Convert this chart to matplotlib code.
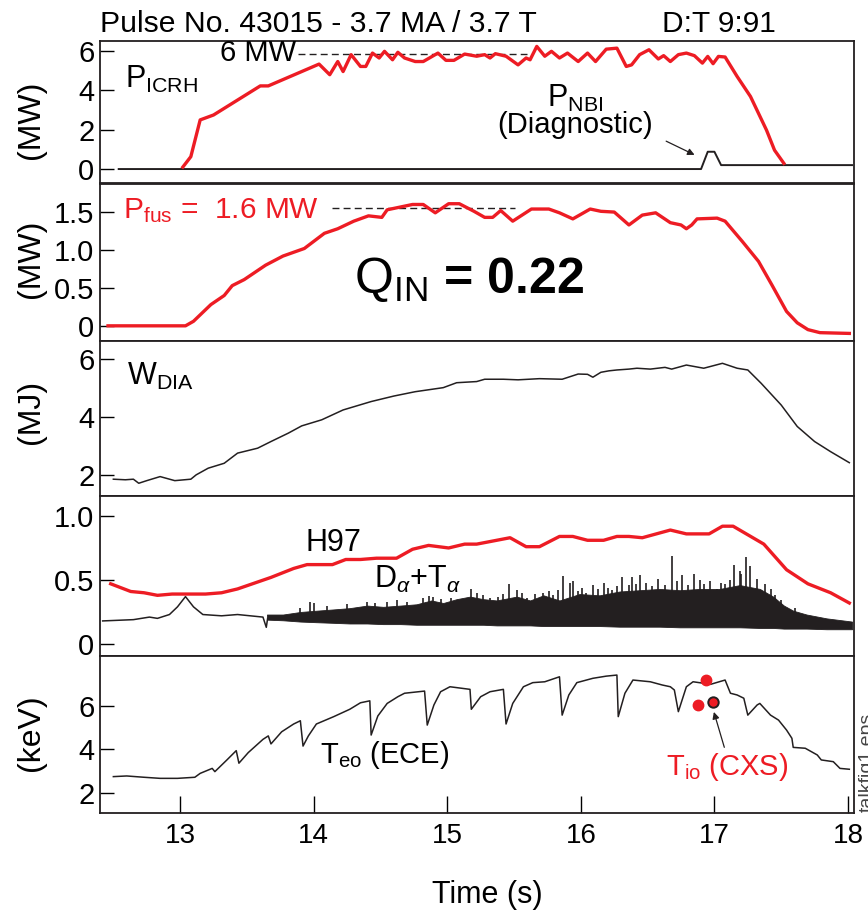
import numpy as np
import matplotlib
matplotlib.use('Agg')
import matplotlib.pyplot as plt

# Helvetica-like face everywhere, subscripts through mathtext
FONT = 'Liberation Sans'
plt.rcParams['font.family'] = [FONT, 'DejaVu Sans']
plt.rcParams['mathtext.fontset'] = 'custom'
plt.rcParams['mathtext.rm'] = FONT
plt.rcParams['mathtext.it'] = FONT + ':italic'
plt.rcParams['mathtext.bf'] = FONT + ':bold'

RED = '#ed1c24'
BLK = '#231f20'

# ---- panel 1: ICRH power and diagnostic NBI (MW)
t_icrh = [13.02, 13.08, 13.15, 13.25, 13.60, 13.66, 14.04, 14.12, 14.18, 14.22, 14.28, 14.35,
          14.39, 14.44, 14.49, 14.53, 14.59, 14.63, 14.68, 14.76, 14.82, 14.93, 14.99, 15.05,
          15.13, 15.22, 15.28, 15.32, 15.36, 15.44, 15.53, 15.59, 15.62, 15.67, 15.73, 15.78,
          15.84, 15.90, 15.98, 16.05, 16.11, 16.19, 16.27, 16.34, 16.38, 16.44, 16.51, 16.58,
          16.62, 16.67, 16.73, 16.79, 16.85, 16.91, 16.95, 16.99, 17.03, 17.08, 17.17, 17.27,
          17.39, 17.45, 17.52]
p_icrh = [0.10, 0.63, 2.50, 2.75, 4.23, 4.23, 5.34, 4.80, 5.47, 4.96, 5.82, 5.22,
          5.22, 5.90, 5.65, 5.99, 5.56, 5.94, 5.65, 5.47, 5.47, 5.90, 5.53, 5.53,
          5.85, 5.74, 5.82, 5.65, 5.87, 5.74, 5.30, 5.65, 5.56, 6.24, 5.74, 5.99,
          5.65, 5.90, 5.47, 5.90, 5.47, 6.10, 6.15, 5.22, 5.30, 5.82, 6.07, 5.60,
          5.77, 5.47, 5.82, 5.90, 5.77, 5.39, 5.73, 5.36, 5.73, 5.70, 4.71, 3.69,
          1.98, 0.96, 0.29]
t_nbi = [12.54, 16.90, 16.95, 17.00, 17.05, 18.03]
p_nbi = [0.00, 0.00, 0.88, 0.88, 0.20, 0.20]

# ---- panel 2: fusion power (MW)
t_fus = [12.46, 13.04, 13.10, 13.23, 13.33, 13.39, 13.48, 13.64, 13.77, 13.93, 14.08, 14.18,
         14.30, 14.41, 14.51, 14.55, 14.74, 14.82, 14.91, 15.01, 15.09, 15.20, 15.28, 15.34,
         15.40, 15.49, 15.63, 15.76, 15.84, 15.94, 16.07, 16.15, 16.25, 16.36, 16.46, 16.56,
         16.67, 16.75, 16.79, 16.83, 16.87, 17.02, 17.08, 17.21, 17.33, 17.43, 17.54, 17.62,
         17.70, 17.79, 18.01]
p_fus = [0.00, 0.00, 0.06, 0.28, 0.40, 0.53, 0.61, 0.80, 0.92, 1.02, 1.22, 1.28,
         1.38, 1.45, 1.43, 1.53, 1.60, 1.60, 1.49, 1.61, 1.61, 1.51, 1.43, 1.43,
         1.52, 1.38, 1.54, 1.54, 1.49, 1.41, 1.54, 1.51, 1.50, 1.33, 1.46, 1.49,
         1.36, 1.33, 1.28, 1.33, 1.41, 1.42, 1.38, 1.11, 0.85, 0.54, 0.19, 0.04,
         -0.05, -0.09, -0.10]

# ---- panel 3: diamagnetic energy (MJ)
t_wdia = [12.50, 12.59, 12.65, 12.69, 12.75, 12.85, 12.96, 13.08, 13.12, 13.21, 13.33, 13.43,
          13.58, 13.68, 13.81, 13.91, 14.06, 14.22, 14.43, 14.60, 14.76, 14.97, 15.07, 15.22,
          15.28, 15.42, 15.53, 15.69, 15.86, 15.98, 16.05, 16.09, 16.15, 16.21, 16.27, 16.36,
          16.42, 16.52, 16.63, 16.68, 16.79, 16.92, 17.06, 17.17, 17.25, 17.35, 17.50, 17.62,
          17.75, 17.87, 18.01]
w_dia = [1.86, 1.84, 1.86, 1.72, 1.81, 1.95, 1.81, 1.86, 2.01, 2.24, 2.41, 2.76,
         2.93, 3.16, 3.45, 3.70, 3.91, 4.25, 4.54, 4.73, 4.88, 5.02, 5.19, 5.23,
         5.31, 5.31, 5.29, 5.33, 5.31, 5.49, 5.48, 5.38, 5.55, 5.60, 5.63, 5.66,
         5.69, 5.66, 5.72, 5.66, 5.80, 5.69, 5.86, 5.69, 5.63, 5.17, 4.42, 3.68,
         3.16, 2.81, 2.43]

# ---- panel 4: H97 and D-alpha + T-alpha
t_h97 = [12.48, 12.63, 12.73, 12.83, 12.94, 13.19, 13.31, 13.43, 13.68, 13.85, 13.95, 14.14,
         14.24, 14.35, 14.47, 14.62, 14.74, 14.86, 15.01, 15.13, 15.22, 15.47, 15.59, 15.69,
         15.84, 15.94, 16.05, 16.17, 16.27, 16.36, 16.46, 16.67, 16.79, 16.96, 17.06, 17.14,
         17.37, 17.54, 17.70, 17.87, 18.01]
h97 = [0.47, 0.41, 0.40, 0.38, 0.39, 0.39, 0.40, 0.43, 0.52, 0.59, 0.62, 0.62,
       0.66, 0.66, 0.67, 0.67, 0.74, 0.77, 0.75, 0.78, 0.78, 0.83, 0.76, 0.76,
       0.84, 0.84, 0.81, 0.81, 0.84, 0.84, 0.83, 0.89, 0.86, 0.86, 0.92, 0.92,
       0.78, 0.58, 0.47, 0.40, 0.32]

t_da = [12.42, 12.65, 12.77, 12.83, 12.92, 12.98, 13.04, 13.10, 13.17, 13.31, 13.43, 13.62,
        13.645, 13.655]
da = [0.18, 0.19, 0.21, 0.20, 0.23, 0.29, 0.37, 0.29, 0.23, 0.22, 0.23, 0.21, 0.13, 0.20]

# solid part of the noisy D-alpha trace: upper and lower edge
t_band = [13.65, 13.77, 13.90, 14.02, 14.15, 14.27, 14.40, 14.52, 14.65, 14.77, 14.88, 14.97,
          15.07, 15.17, 15.27, 15.37, 15.52, 15.62, 15.72, 15.84, 15.99, 16.14, 16.29, 16.44,
          16.59, 16.74, 16.89, 17.04, 17.19, 17.34, 17.44, 17.52, 17.59, 17.69, 17.84, 18.03]
band_hi = [0.23, 0.23, 0.25, 0.26, 0.27, 0.28, 0.30, 0.29, 0.30, 0.31, 0.34, 0.32,
           0.35, 0.37, 0.35, 0.34, 0.37, 0.34, 0.38, 0.34, 0.39, 0.38, 0.41, 0.42,
           0.43, 0.42, 0.43, 0.43, 0.46, 0.43, 0.37, 0.30, 0.26, 0.23, 0.20, 0.175]
band_lo = [0.19, 0.185, 0.175, 0.17, 0.165, 0.16, 0.16, 0.155, 0.155, 0.15, 0.15, 0.15,
           0.15, 0.15, 0.15, 0.145, 0.145, 0.145, 0.14, 0.14, 0.14, 0.14, 0.135, 0.135,
           0.135, 0.13, 0.13, 0.13, 0.13, 0.125, 0.125, 0.12, 0.12, 0.12, 0.115, 0.115]
# spikes sticking out of the trace (time, top)
t_spk = [13.90, 13.97, 14.00, 14.10, 14.25, 14.40, 14.46, 14.55, 14.62, 14.70, 14.82, 14.86,
         14.89, 14.95, 15.03, 15.12, 15.18, 15.22, 15.27, 15.32, 15.38, 15.42, 15.46, 15.52,
         15.56, 15.60, 15.66, 15.72, 15.76, 15.79, 15.83, 15.87, 15.92, 15.94, 15.98, 16.01,
         16.04, 16.09, 16.13, 16.17, 16.20, 16.23, 16.27, 16.31, 16.36, 16.38, 16.41, 16.44,
         16.49, 16.53, 16.58, 16.63, 16.68, 16.72, 16.76, 16.80, 16.85, 16.89, 16.92, 16.97,
         17.02, 17.05, 17.08, 17.12, 17.15, 17.19, 17.20, 17.24, 17.27, 17.32, 17.35, 17.38,
         17.42, 17.45, 17.50, 17.60]
spk = [0.28, 0.33, 0.32, 0.30, 0.31, 0.33, 0.32, 0.33, 0.34, 0.33, 0.36, 0.375,
       0.37, 0.35, 0.36, 0.33, 0.43, 0.40, 0.38, 0.36, 0.37, 0.39, 0.47, 0.42,
       0.40, 0.36, 0.39, 0.40, 0.41, 0.38, 0.42, 0.53, 0.48, 0.49, 0.41, 0.44,
       0.40, 0.46, 0.43, 0.48, 0.44, 0.42, 0.45, 0.52, 0.46, 0.52, 0.47, 0.54,
       0.48, 0.45, 0.51, 0.46, 0.69, 0.49, 0.54, 0.46, 0.55, 0.50, 0.47, 0.49,
       0.43, 0.48, 0.47, 0.50, 0.62, 0.57, 0.55, 0.68, 0.61, 0.51, 0.42, 0.47,
       0.43, 0.38, 0.34, 0.28]

# ---- panel 5: electron temperature (ECE) and ion temperature (CXS), keV
t_te = [12.50, 12.60, 12.73, 12.85, 12.98, 13.11, 13.15, 13.24, 13.26, 13.35, 13.42, 13.44,
        13.51, 13.62, 13.66, 13.68, 13.76, 13.85, 13.90, 13.92, 13.96, 14.02, 14.15, 14.27,
        14.35, 14.42, 14.43, 14.48, 14.55, 14.63, 14.68, 14.83, 14.85, 14.90, 14.95, 15.02,
        15.17, 15.18, 15.25, 15.32, 15.42, 15.44, 15.49, 15.57, 15.64, 15.73, 15.84, 15.86,
        15.91, 15.97, 16.09, 16.19, 16.27, 16.28, 16.33, 16.39, 16.52, 16.61, 16.67, 16.70,
        16.73, 16.79, 16.84, 16.92, 16.97, 17.08, 17.12, 17.17, 17.22, 17.25, 17.32, 17.34,
        17.42, 17.48, 17.54, 17.58, 17.59, 17.68, 17.77, 17.80, 17.89, 17.94, 18.01]
te = [2.74, 2.77, 2.71, 2.66, 2.66, 2.71, 2.89, 3.12, 2.97, 3.51, 3.94, 3.36,
      3.85, 4.46, 4.62, 4.25, 4.81, 5.17, 5.32, 4.15, 4.62, 5.17, 5.51, 5.85,
      6.15, 6.24, 4.66, 5.54, 6.12, 6.43, 6.59, 6.69, 5.12, 6.05, 6.66, 6.89,
      6.77, 5.85, 6.43, 6.66, 6.77, 5.17, 6.12, 6.89, 7.08, 7.12, 7.35, 5.58,
      6.51, 7.08, 7.28, 7.38, 7.43, 5.51, 6.59, 7.20, 7.12, 6.97, 6.89, 6.74,
      5.74, 6.89, 7.12, 7.05, 7.00, 7.20, 6.59, 6.51, 6.36, 5.58, 6.05, 6.12,
      5.58, 5.35, 4.89, 4.51, 4.09, 4.05, 3.74, 3.51, 3.43, 3.12, 3.08]
t_ti = [16.94, 16.88, 16.99]
ti = [7.20, 6.05, 6.20]

W, H = 868, 913
fig = plt.figure(figsize=(W / 100, H / 100), dpi=100)

xl, xr = 100, 854
panels = [(40.7, 183), (184, 341), (341, 496), (496, 656), (656, 813)]
ylims = [(-0.71, 6.53), (-0.20, 1.87), (1.28, 6.63), (-0.094, 1.156), (1.06, 8.31)]
yticks = [[0, 2, 4, 6], [0, 0.5, 1.0, 1.5], [2, 4, 6], [0, 0.5, 1.0], [2, 4, 6]]
ytl = [['0', '2', '4', '6'], ['0', '0.5', '1.0', '1.5'], ['2', '4', '6'],
       ['0', '0.5', '1.0'], ['2', '4', '6']]

axs = []
for (top, bot), yl, yt, lab in zip(panels, ylims, yticks, ytl):
    ax = fig.add_axes([xl / W, 1 - bot / H, (xr - xl) / W, (bot - top) / H])
    ax.set_xlim(12.40, 18.045)
    ax.set_ylim(*yl)
    ax.set_yticks(yt)
    ax.set_yticklabels(lab)
    ax.tick_params(axis='y', direction='in', length=10, width=1, labelsize=21, pad=4)
    ax.tick_params(axis='x', bottom=False, labelbottom=False)
    for s in ax.spines.values():
        s.set_linewidth(1.3)
        s.set_color(BLK)
    axs.append(ax)

ax1, ax2, ax3, ax4, ax5 = axs

# panel 1
ax1.plot([13.88, 15.6], [5.85, 5.85], color=BLK, lw=1, ls=(0, (5, 3)), zorder=1)
ax1.plot(t_nbi, p_nbi, color=BLK, lw=1.4)
ax1.plot(t_icrh, p_icrh, color=RED, lw=2.4, zorder=3)
ax1.text(13.87, 5.9, '6 MW', fontsize=21, ha='right', va='center')
ax1.text(12.59, 4.12, r'P$_{\rm ICRH}$', fontsize=22, va='baseline')
ax1.text(15.75, 3.16, r'P$_{\rm NBI}$', fontsize=22, va='baseline')
ax1.text(15.96, 2.24, '(Diagnostic)', fontsize=21, ha='center', va='center')
ax1.annotate('', xy=(16.87, 0.66), xytext=(16.62, 1.48),
             arrowprops=dict(arrowstyle='-|>', color=BLK, lw=0.9, mutation_scale=10))

# panel 2
ax2.plot([14.14, 15.51], [1.55, 1.55], color=BLK, lw=1, ls=(0, (5, 3)), zorder=1)
ax2.plot(t_fus, p_fus, color=RED, lw=2.4, zorder=3)
ax2.text(12.57, 1.42, r'P$_{\rm fus}$ =  1.6 MW', fontsize=21.5, color=RED, va='baseline')
# math part stays regular, the rest of the string is bold
ax2.text(14.30, 0.43, r'$\mathrm{Q_{IN}}$ = 0.22', fontsize=36, fontweight='bold',
         va='baseline')

# panel 3
ax3.plot(t_wdia, w_dia, color=BLK, lw=1.1)
ax3.text(12.60, 5.11, r'W$_{\rm DIA}$', fontsize=22, va='baseline')

# panel 4
ax4.plot(t_da, da, color=BLK, lw=1.1)
ax4.fill_between(t_band, band_lo, band_hi, color=BLK, lw=0.6, edgecolor=BLK)
ax4.vlines(t_spk, np.interp(t_spk, t_band, band_lo), spk, color=BLK, lw=1.2)
ax4.plot(t_h97, h97, color=RED, lw=2.4, zorder=3)
ax4.text(13.94, 0.727, 'H97', fontsize=22, va='baseline')
ax4.text(14.45, 0.435, r'D$_{\alpha}$+T$_{\alpha}$', fontsize=22, va='baseline')

# panel 5
ax5.plot(t_te, te, color=BLK, lw=1.1)
ax5.plot(t_ti[:2], ti[:2], 'o', color=RED, ms=7.5, mec=RED)
ax5.plot(t_ti[2:], ti[2:], 'o', color=RED, ms=7.5, mec=BLK, mew=1.4)
ax5.annotate('', xy=(16.99, 5.85), xytext=(17.08, 3.97),
             arrowprops=dict(arrowstyle='-|>', color=BLK, lw=0.9, mutation_scale=10))
ax5.text(14.05, 3.36, r'T$_{\rm eo}$ (ECE)', fontsize=21, va='baseline')
ax5.text(16.64, 2.82, r'T$_{\rm io}$ (CXS)', fontsize=21, color=RED, va='baseline')
ax5.set_xticks([13, 14, 15, 16, 17, 18])
ax5.tick_params(axis='x', bottom=True, labelbottom=True, direction='in', length=12,
                width=1, labelsize=20, pad=7)

# unit labels
for lab, yc in zip(['(MW)', '(MW)', '(MJ)', '(keV)'], [120, 259, 412, 733]):
    fig.text(31 / W, 1 - yc / H, lab, rotation=90, ha='center', va='center', fontsize=23)

fig.text(100 / W, 1 - 31.7 / H, 'Pulse No. 43015 - 3.7 MA / 3.7 T', fontsize=21.7, va='baseline')
fig.text(662 / W, 1 - 31.7 / H, 'D:T 9:91', fontsize=21.5, va='baseline')
fig.text(487 / W, 1 - 895 / H, 'Time (s)', fontsize=22, ha='center', va='center')
fig.text(859 / W, 1 - 812 / H, 'talkfig1.eps', fontsize=14, rotation=90,
         ha='left', va='bottom', color='#444444')

fig.savefig('out.png', dpi=100)
